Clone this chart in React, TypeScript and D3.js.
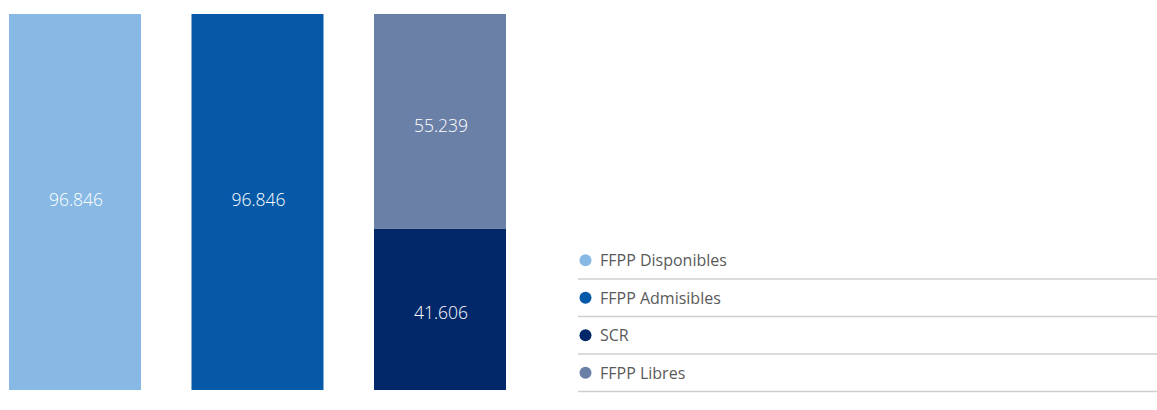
import React from "react";
import * as d3 from "d3";

const categories = ["FFPP Disponibles", "FFPP Admisibles", "SCR+Libres"];
const disponibles = [96.846];
const admisibles = [96.846];
const scr = [41.606];
const libres = [55.239];
const legendLabels = ["FFPP Disponibles", "FFPP Admisibles", "SCR", "FFPP Libres"];
const colors = ["#87B9E4", "#0559A7", "#03286A", "#6A80A7"];

const fmt = (v: number) => v.toFixed(3);

export default function App() {
  const W = 1157, H = 410;
  const x = d3.scaleBand<string>().domain(categories).range([9, 506]).paddingInner(0.2767).paddingOuter(0);
  const y = d3.scaleLinear().domain([0, 96.846]).range([390, 14]);

  type Seg = { cat: string; y0: number; y1: number; color: string; label: string; dy: number };
  const segs: Seg[] = [
    { cat: categories[0], y0: 0, y1: disponibles[0], color: colors[0], label: fmt(disponibles[0]), dy: -3 },
    { cat: categories[1], y0: 0, y1: admisibles[0], color: colors[1], label: fmt(admisibles[0]), dy: -3 },
    { cat: categories[2], y0: 0, y1: scr[0], color: colors[2], label: fmt(scr[0]), dy: 3 },
    { cat: categories[2], y0: scr[0], y1: scr[0] + libres[0], color: colors[3], label: fmt(libres[0]), dy: 4 },
  ];

  const legendY = d3.scaleBand<string>().domain(legendLabels).range([242, 392]);

  return (
    <svg width={W} height={H} style={{ position: "absolute", left: 0, top: 0 }}>
      {segs.map((s, i) => {
        const top = y(s.y1), bot = y(s.y0);
        const cx = (x(s.cat) as number) + x.bandwidth() / 2;
        return (
          <g key={i}>
            <rect x={x(s.cat)} y={top} width={x.bandwidth()} height={bot - top} fill={s.color} />
            <text x={cx + 1} y={(top + bot) / 2 + s.dy} textAnchor="middle" dominantBaseline="central"
              fill="#fff" fontFamily="'Open Sans', sans-serif" fontWeight={300} fontSize={17.5}>{s.label}</text>
          </g>
        );
      })}
      {legendLabels.map((l, i) => {
        const y0 = legendY(l) as number;
        const bw = legendY.bandwidth();
        return (
          <g key={l}>
            <circle cx={585.5} cy={y0 + bw / 2 - 0.5} r={6} fill={colors[i]} />
            <text x={600} y={y0 + bw / 2 + 5.5} fill="#5a5a5a" fontFamily="'Open Sans', sans-serif" fontWeight={400} fontSize={16}>{l}</text>
            <line x1={578} x2={1157} y1={y0 + bw - 0.5} y2={y0 + bw - 0.5} stroke="#cfcfcf" strokeWidth={1.6} />
          </g>
        );
      })}
    </svg>
  );
}
